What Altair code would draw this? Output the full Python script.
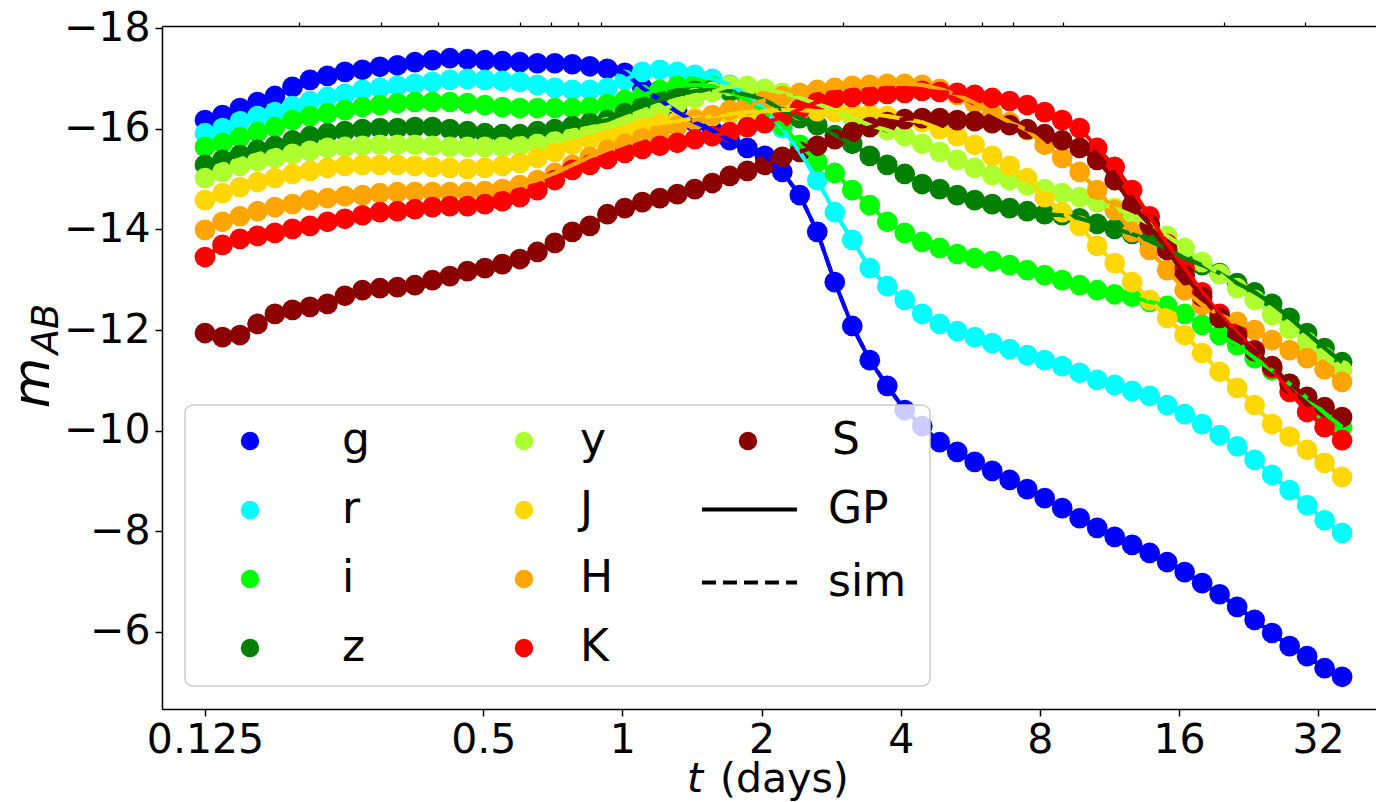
import altair as alt
import pandas as pd

# time grid (days)
T = [0.125, 0.1364, 0.1488, 0.1624, 0.1771, 0.1933, 0.2109, 0.2301, 0.2510, 0.2739,
     0.2988, 0.3260, 0.3557, 0.3881, 0.4234, 0.4620, 0.5041, 0.5500, 0.6001, 0.6547,
     0.7143, 0.7794, 0.8503, 0.9278, 1.0122, 1.1044, 1.2050, 1.3147, 1.4344, 1.5650,
     1.7075, 1.8630, 2.0326, 2.2178, 2.4197, 2.6400, 2.8805, 3.1428, 3.4291, 3.7414,
     4.0818, 4.4533, 4.8589, 5.3013, 5.7840, 6.3108, 6.8855, 7.5126, 8.1970, 8.9434,
     9.7578, 10.646, 11.616, 12.674, 13.828, 15.087, 16.461, 17.960, 19.596, 21.381,
     23.328, 25.452, 27.771, 30.298, 33.053, 36.064]

G = [-16.17, -16.27, -16.41, -16.53, -16.65, -16.83, -16.97, -17.05, -17.13, -17.17,
     -17.23, -17.26, -17.32, -17.36, -17.40, -17.38, -17.36, -17.34, -17.32, -17.30,
     -17.30, -17.28, -17.24, -17.19, -17.11, -16.81, -16.57, -16.33, -16.13, -15.97,
     -15.77, -15.62, -15.46, -15.14, -14.68, -13.95, -12.95, -12.08, -11.40, -10.89,
     -10.41, -10.09, -9.77, -9.58, -9.38, -9.20, -9.02, -8.84, -8.66, -8.46,
     -8.26, -8.07, -7.89, -7.73, -7.57, -7.39, -7.19, -6.97, -6.75, -6.50,
     -6.24, -5.98, -5.72, -5.52, -5.28, -5.11]
R = [-15.91, -16.01, -16.15, -16.25, -16.33, -16.45, -16.55, -16.63, -16.69, -16.77,
     -16.81, -16.85, -16.89, -16.93, -16.97, -16.99, -16.97, -16.95, -16.93, -16.87,
     -16.81, -16.77, -16.77, -16.81, -16.97, -17.13, -17.17, -17.13, -17.07, -16.99,
     -16.87, -16.67, -16.37, -16.01, -15.54, -14.98, -14.34, -13.79, -13.23, -12.87,
     -12.60, -12.32, -12.12, -11.98, -11.86, -11.74, -11.62, -11.50, -11.40, -11.28,
     -11.15, -11.01, -10.91, -10.79, -10.69, -10.51, -10.33, -10.13, -9.91, -9.69,
     -9.42, -9.12, -8.82, -8.52, -8.22, -7.97]
I = [-15.64, -15.72, -15.83, -15.93, -16.03, -16.17, -16.25, -16.31, -16.37, -16.43,
     -16.47, -16.51, -16.53, -16.53, -16.53, -16.51, -16.47, -16.43, -16.41, -16.41,
     -16.41, -16.41, -16.43, -16.49, -16.57, -16.67, -16.77, -16.85, -16.87, -16.85,
     -16.73, -16.57, -16.33, -16.07, -15.68, -15.34, -15.12, -14.78, -14.48, -14.15,
     -13.93, -13.75, -13.63, -13.51, -13.43, -13.37, -13.29, -13.19, -13.09, -12.99,
     -12.89, -12.79, -12.71, -12.66, -12.56, -12.48, -12.32, -12.10, -11.90, -11.70,
     -11.44, -11.20, -10.93, -10.65, -10.35, -10.07]
Z = [-15.28, -15.38, -15.48, -15.58, -15.66, -15.77, -15.85, -15.91, -15.95, -15.99,
     -16.01, -16.01, -16.03, -16.03, -15.99, -15.95, -15.91, -15.89, -15.89, -15.95,
     -15.99, -16.05, -16.11, -16.17, -16.31, -16.45, -16.57, -16.67, -16.75, -16.77,
     -16.75, -16.67, -16.57, -16.37, -16.21, -16.07, -15.87, -15.70, -15.46, -15.28,
     -15.10, -14.90, -14.80, -14.68, -14.58, -14.50, -14.42, -14.36, -14.30, -14.28,
     -14.22, -14.11, -14.01, -13.91, -13.77, -13.61, -13.43, -13.29, -13.13, -12.93,
     -12.75, -12.52, -12.24, -11.94, -11.64, -11.36]
Y = [-15.02, -15.14, -15.26, -15.36, -15.42, -15.50, -15.56, -15.62, -15.64, -15.66,
     -15.68, -15.68, -15.68, -15.66, -15.64, -15.64, -15.64, -15.64, -15.66, -15.70,
     -15.75, -15.83, -15.93, -16.03, -16.13, -16.25, -16.37, -16.49, -16.61, -16.73,
     -16.85, -16.85, -16.79, -16.71, -16.61, -16.49, -16.37, -16.21, -16.07, -15.97,
     -15.85, -15.70, -15.54, -15.38, -15.22, -15.08, -14.98, -14.88, -14.80, -14.72,
     -14.64, -14.54, -14.42, -14.28, -14.11, -13.87, -13.63, -13.35, -13.11, -12.83,
     -12.60, -12.30, -12.02, -11.76, -11.46, -11.20]
J = [-14.58, -14.72, -14.84, -14.94, -15.02, -15.10, -15.16, -15.22, -15.26, -15.28,
     -15.28, -15.28, -15.26, -15.24, -15.22, -15.20, -15.22, -15.26, -15.32, -15.42,
     -15.54, -15.68, -15.79, -15.89, -15.97, -16.05, -16.11, -16.15, -16.21, -16.25,
     -16.29, -16.33, -16.35, -16.37, -16.37, -16.35, -16.33, -16.33, -16.29, -16.25,
     -16.19, -16.13, -15.99, -15.85, -15.68, -15.46, -15.26, -15.02, -14.64, -14.34,
     -14.07, -13.67, -13.33, -12.95, -12.60, -12.24, -11.90, -11.54, -11.17, -10.85,
     -10.51, -10.13, -9.88, -9.62, -9.36, -9.08]
H = [-13.99, -14.15, -14.26, -14.36, -14.44, -14.50, -14.58, -14.62, -14.66, -14.68,
     -14.72, -14.74, -14.74, -14.74, -14.74, -14.74, -14.76, -14.80, -14.88, -14.98,
     -15.12, -15.28, -15.44, -15.58, -15.70, -15.81, -15.93, -16.05, -16.17, -16.27,
     -16.37, -16.47, -16.57, -16.65, -16.71, -16.77, -16.81, -16.85, -16.87, -16.89,
     -16.89, -16.87, -16.79, -16.67, -16.51, -16.31, -16.13, -15.97, -15.68, -15.42,
     -15.14, -14.78, -14.38, -13.95, -13.59, -13.19, -12.79, -12.50, -12.30, -12.16,
     -12.00, -11.80, -11.60, -11.44, -11.22, -10.97]
K = [-13.45, -13.69, -13.81, -13.87, -13.93, -14.01, -14.07, -14.15, -14.21, -14.28,
     -14.34, -14.36, -14.40, -14.44, -14.46, -14.46, -14.50, -14.56, -14.64, -14.78,
     -14.98, -15.18, -15.28, -15.40, -15.52, -15.60, -15.66, -15.72, -15.79, -15.85,
     -15.93, -16.03, -16.11, -16.23, -16.39, -16.53, -16.61, -16.63, -16.65, -16.69,
     -16.71, -16.75, -16.73, -16.71, -16.67, -16.61, -16.55, -16.47, -16.33, -16.17,
     -16.01, -15.62, -15.24, -14.78, -14.26, -13.71, -13.23, -12.75, -12.32, -11.94,
     -11.60, -11.24, -10.77, -10.37, -10.07, -9.81]
S = [-11.94, -11.86, -11.90, -12.12, -12.32, -12.40, -12.46, -12.52, -12.68, -12.79,
     -12.83, -12.85, -12.89, -12.99, -13.07, -13.17, -13.23, -13.31, -13.41, -13.55,
     -13.73, -13.95, -14.07, -14.30, -14.42, -14.54, -14.62, -14.70, -14.80, -14.92,
     -15.06, -15.16, -15.28, -15.44, -15.54, -15.66, -15.79, -15.93, -16.03, -16.13,
     -16.19, -16.21, -16.21, -16.17, -16.15, -16.11, -16.07, -15.99, -15.89, -15.77,
     -15.62, -15.38, -14.98, -14.48, -14.09, -13.59, -13.09, -12.66, -12.24, -11.88,
     -11.58, -11.28, -10.93, -10.67, -10.47, -10.27]

BANDS = ["g", "r", "i", "z", "y", "J", "H", "K", "S"]
COLORS = ["#0000ff", "#00ffff", "#00ff00", "#008000", "#adff2f",
          "#ffd700", "#ffa500", "#ff0000", "#8b0000"]
KINDS = ["GP", "sim"]
X_MAJOR = [0.125, 0.5, 1, 2, 4, 8, 16, 32]
X_MINOR = [0.2, 0.3, 0.4, 0.6, 0.7, 0.8, 0.9, 3, 5, 6, 7, 9, 20, 30]
Y_TICKS = [-18, -16, -14, -12, -10, -8, -6]

series = dict(zip(BANDS, [G, R, I, Z, Y, J, H, K, S]))
df = pd.DataFrame([{"t": t, "m": m, "band": b}
                   for b in BANDS for t, m in zip(T, series[b])])
lines_df = pd.concat([df.assign(kind=k) for k in KINDS], ignore_index=True)
col = dict(zip(BANDS, COLORS))

FONT = "DejaVu Sans"
FS = 41
LFS = 44
xscale = alt.Scale(type="log", base=2, domain=[0.1009, 42.7], nice=False)
yscale = alt.Scale(domain=[-18.04, -4.47], reverse=True, nice=False, zero=False)

yaxis = alt.Axis(values=Y_TICKS, labelExpr="'\u2212' + format(abs(datum.value), 'd')",
                 title=None, grid=False, tickSize=7, tickWidth=1.5, tickColor="black",
                 domainColor="black", domainWidth=1.5, labelFontSize=FS, labelFont=FONT,
                 labelColor="black", labelPadding=5)
xaxis_major = alt.Axis(values=X_MAJOR, labelExpr="format(datum.value, '~g')", title=None,
                       grid=False, tickSize=7, tickWidth=1.5, tickColor="black",
                       domainColor="black", domainWidth=1.5, labelFontSize=FS,
                       labelFont=FONT, labelColor="black", labelPadding=4,
                       labelOverlap=False, labelFlush=False)
xaxis_minor = alt.Axis(values=X_MINOR, labels=False, domain=False, title=None, grid=False,
                       tickSize=4, tickWidth=1.2, tickColor="black")
xaxis_top = alt.Axis(orient="top", labels=False, ticks=False, domain=True,
                     domainColor="black", domainWidth=1.5, title=None, grid=False)


def fill_legend(x, y, offset):
    return alt.Legend(orient="none", legendX=x, legendY=y, title=None, direction="vertical",
                      symbolType="circle", symbolSize=340, symbolOpacity=1,
                      symbolStrokeWidth=0, labelFontSize=LFS, labelFont=FONT,
                      labelColor="black", labelOffset=offset, rowPadding=25, padding=0)


def points(bands, axis, legend):
    sub = df[df["band"].isin(bands)]
    return alt.Chart(sub).mark_point(filled=True, size=430, opacity=1, shape="circle").encode(
        x=alt.X("t:Q", scale=xscale, axis=axis),
        y=alt.Y("m:Q", scale=yscale, axis=yaxis),
        fill=alt.Fill("band:N", scale=alt.Scale(domain=bands, range=[col[b] for b in bands]),
                      legend=legend),
    )


ptsA = points(["g", "r", "i", "z"], xaxis_major, fill_legend(66, 393, 70))
ptsB = points(["y", "J", "H", "K"], xaxis_minor, fill_legend(340, 393, 34))
ptsS = points(["S"], None, fill_legend(564, 393, 62))

lines = alt.Chart(lines_df).mark_line(strokeWidth=4).encode(
    x=alt.X("t:Q", scale=xscale, axis=None),
    y=alt.Y("m:Q", scale=yscale, axis=yaxis),
    stroke=alt.Stroke("band:N", scale=alt.Scale(domain=BANDS, range=COLORS), legend=None),
    strokeDash=alt.StrokeDash("kind:N", scale=alt.Scale(domain=KINDS, range=[[1, 0], [14, 7]]),
                              legend=alt.Legend(orient="none", legendX=538, legendY=434,
                                                title=None, direction="vertical",
                                                symbolType="stroke", symbolSize=9025,
                                                symbolStrokeColor="black",
                                                symbolStrokeWidth=4, labelFontSize=LFS,
                                                labelFont=FONT, labelColor="black",
                                                labelOffset=29, rowPadding=1, padding=0)),
)

top = alt.Chart(pd.DataFrame({"t": [1.0]})).mark_point(opacity=0).encode(
    x=alt.X("t:Q", scale=xscale, axis=xaxis_top))

frame = alt.Chart(pd.DataFrame({"a": [0]})).mark_rect(
    fill="white", fillOpacity=0.8, stroke="#cccccc", strokeWidth=1.5, cornerRadius=8
).encode(x=alt.value(23), x2=alt.value(768), y=alt.value(379), y2=alt.value(660))


def label(txt, x, y, size, italic=False, angle=0, align="left"):
    kw = dict(font=FONT, fontSize=size, align=align, baseline="alphabetic", color="black")
    if italic:
        kw["fontStyle"] = "italic"
    if angle:
        kw["angle"] = angle
    return alt.Chart(pd.DataFrame({"s": [txt]})).mark_text(**kw).encode(
        x=alt.value(x), y=alt.value(y), text="s:N")


xt1 = label("t", 525, 766, FS, italic=True)
xt2 = label("(days)", 558, 766, FS)
yt1 = label("m", -113, 357, 52, italic=True, angle=270, align="center")
yt2 = label("AB", -104, 303, 37, italic=True, angle=270, align="center")

chart = alt.layer(ptsA, ptsB, ptsS, lines, top, frame, xt1, xt2, yt1, yt2).resolve_scale(
    fill="independent"
).resolve_axis(x="independent").properties(
    width=1214, height=683,
    padding={"left": 162, "top": 26, "right": 0, "bottom": 93},
    autosize="none",
).configure_view(stroke=None).configure(font=FONT, background="white")

chart.save("out.html", embed_options={"renderer": "svg", "actions": False})
